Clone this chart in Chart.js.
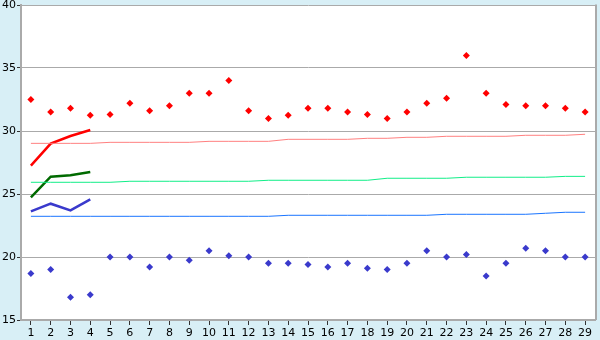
<!DOCTYPE html>
<html>
<head>
<meta charset="utf-8">
<script src="https://cdn.jsdelivr.net/npm/chart.js@4/dist/chart.umd.min.js"></script>
<style>
  html, body { margin: 0; padding: 0; background: #d8eff6; }
  #wrap { width: 600px; height: 340px; }
</style>
</head>
<body>
<div id="wrap"><canvas id="c" width="600" height="340"></canvas></div>
<script>
const categories = ["1","2","3","4","5","6","7","8","9","10","11","12","13","14","15","16","17","18","19","20","21","22","23","24","25","26","27","28","29"];
const yTicks = [15, 20, 25, 30, 35, 40];

const highPoints = [32.5, 31.5, 31.8, 31.25, 31.3, 32.2, 31.6, 32.0, 33.0, 33.0, 34.0, 31.6, 31.0, 31.25, 31.8, 31.8, 31.5, 31.3, 31.0, 31.5, 32.2, 32.6, 36.0, 33.0, 32.1, 32.0, 32.0, 31.8, 31.5];
const lowPoints = [18.7, 19.0, 16.8, 17.0, 20.0, 20.0, 19.2, 20.0, 19.75, 20.5, 20.1, 20.0, 19.5, 19.5, 19.4, 19.2, 19.5, 19.1, 19.0, 19.5, 20.5, 20.0, 20.2, 18.5, 19.5, 20.7, 20.5, 20.0, 20.0];

const pinkLine = [29.02, 29.02, 29.02, 29.02, 29.1, 29.1, 29.1, 29.1, 29.1, 29.18, 29.18, 29.18, 29.18, 29.34, 29.34, 29.34, 29.34, 29.42, 29.42, 29.5, 29.5, 29.58, 29.58, 29.58, 29.58, 29.66, 29.66, 29.66, 29.74];
const lightGreenLine = [25.93, 25.93, 25.93, 25.93, 25.93, 26.01, 26.01, 26.01, 26.01, 26.01, 26.01, 26.01, 26.09, 26.09, 26.09, 26.09, 26.09, 26.09, 26.25, 26.25, 26.25, 26.25, 26.33, 26.33, 26.33, 26.33, 26.33, 26.4, 26.4];
const lightBlueLine = [23.23, 23.23, 23.23, 23.23, 23.23, 23.23, 23.23, 23.23, 23.23, 23.23, 23.23, 23.23, 23.23, 23.31, 23.31, 23.31, 23.31, 23.31, 23.31, 23.31, 23.31, 23.39, 23.39, 23.39, 23.39, 23.39, 23.47, 23.55, 23.55];

const redShort = [27.25, 29.0, 29.6, 30.08];
const greenShort = [24.74, 26.37, 26.48, 26.75];
const blueShort = [23.62, 24.23, 23.7, 24.58];

const bgPlugin = {
  id: 'bg',
  beforeDraw(chart) {
    const ctx = chart.ctx, a = chart.chartArea;
    ctx.save();
    ctx.fillStyle = '#d8eff6';
    ctx.fillRect(0, 0, chart.width, chart.height);
    ctx.fillStyle = '#ffffff';
    ctx.fillRect(a.left, a.top, a.right - a.left, a.bottom - a.top);
    ctx.restore();
  },
  afterDraw(chart) {
    const ctx = chart.ctx, a = chart.chartArea;
    ctx.save();
    ctx.strokeStyle = '#aaaaaa';
    ctx.lineWidth = 2;
    ctx.beginPath();
    ctx.moveTo(a.right + 1, a.top - 0.5);
    ctx.lineTo(a.right + 1, a.bottom);
    ctx.stroke();
    ctx.restore();
  }
};

function pts(data, color) {
  return {
    data: data, showLine: false, borderColor: color, backgroundColor: color,
    pointStyle: 'rectRot', pointRadius: 3.5, pointHoverRadius: 3.5, borderWidth: 0
  };
}
function line(data, color, w) {
  return {
    data: data, borderColor: color, backgroundColor: color, borderWidth: w,
    pointRadius: 0, tension: 0, fill: false
  };
}

new Chart(document.getElementById('c'), {
  type: 'line',
  data: {
    labels: categories,
    datasets: [
      line(pinkLine, '#ff8080', 1),
      line(lightGreenLine, '#11ee88', 1),
      line(lightBlueLine, '#1a75ff', 1),
      line(redShort, '#ff0000', 2.5),
      line(greenShort, '#006a00', 2.5),
      line(blueShort, '#3a3acc', 2.5),
      pts(highPoints, '#ff0000'),
      pts(lowPoints, '#3a3acc')
    ]
  },
  plugins: [bgPlugin],
  options: {
    responsive: false,
    animation: false,
    events: [],
    layout: { padding: { top: 5, right: 5, left: 0, bottom: 0 } },
    plugins: { legend: { display: false }, tooltip: { enabled: false } },
    scales: {
      x: {
        offset: true,
        grid: { offset: false, drawOnChartArea: false, drawTicks: true, tickLength: 5, tickColor: '#333333', color: '#aaaaaa' },
        border: { color: '#aaaaaa', width: 2 },
        ticks: { color: '#000000', font: { family: 'DejaVu Sans', size: 11 }, padding: 2, maxRotation: 0, autoSkip: false },
        afterFit(s) { s.height = 20; s.paddingLeft = 0; s.paddingRight = 0; }
      },
      y: {
        min: 15, max: 40,
        afterBuildTicks(s) { s.ticks = yTicks.map(v => ({ value: v })); },
        grid: { color: '#aaaaaa', drawTicks: true, tickLength: 4, tickColor: '#333333' },
        border: { color: '#aaaaaa', width: 2 },
        ticks: { color: '#000000', font: { family: 'DejaVu Sans', size: 11 }, padding: 1 },
        afterFit(s) { s.width = 21; s.paddingTop = 0; s.paddingBottom = 0; }
      }
    }
  }
});
</script>
</body>
</html>
